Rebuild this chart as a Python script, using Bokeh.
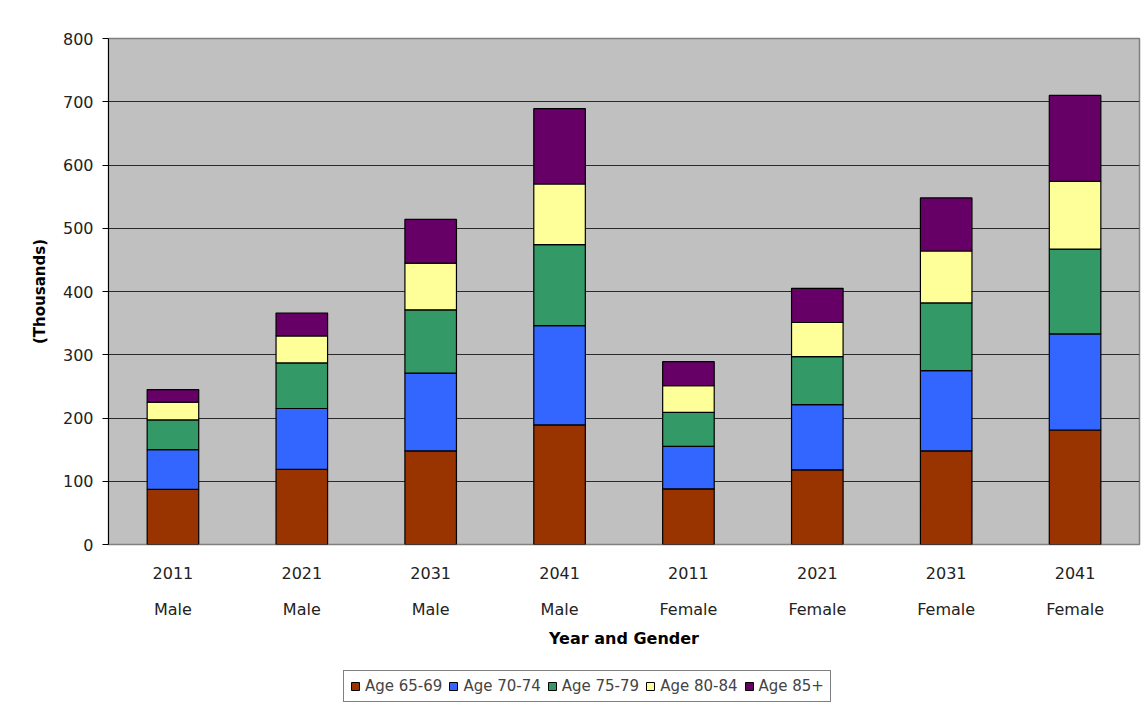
from bokeh.plotting import figure
from bokeh.layouts import column
from bokeh.models import (ColumnDataSource, FactorRange, Range1d, FixedTicker,
                          Legend, LegendItem)
from bokeh.embed import file_html
from bokeh.resources import INLINE

years = ["2011", "2021", "2031", "2041", "2011", "2021", "2031", "2041"]
genders = ["Male", "Male", "Male", "Male", "Female", "Female", "Female", "Female"]
age_groups = ["Age 65-69", "Age 70-74", "Age 75-79", "Age 80-84", "Age 85+"]
age_65_69 = [87, 119, 148, 189, 88, 118, 148, 181]
age_70_74 = [63, 96, 123, 157, 67, 103, 127, 152]
age_75_79 = [47, 72, 100, 128, 54, 76, 107, 134]
age_80_84 = [28, 43, 74, 96, 42, 54, 82, 107]
age_85_plus = [20, 36, 69, 119, 38, 54, 84, 136]
colors = ["#993300", "#3366FF", "#339966", "#FFFF99", "#660066"]
y_ticks = [0, 100, 200, 300, 400, 500, 600, 700, 800]

factors = [f"{y}\n\n{g}" for y, g in zip(years, genders)]
keys = ["a1", "a2", "a3", "a4", "a5"]
source = ColumnDataSource(dict(x=factors, a1=age_65_69, a2=age_70_74,
                               a3=age_75_79, a4=age_80_84, a5=age_85_plus))

FONT = "DejaVu Sans"
W = 1146

p = figure(width=W, height=660, x_range=FactorRange(*factors, range_padding=0),
           y_range=Range1d(0, 800), output_backend="svg", toolbar_location=None,
           min_border_left=108, min_border_right=7, min_border_top=38,
           min_border_bottom=116)

renderers = p.vbar_stack(keys, x="x", width=0.4, source=source, color=colors,
                         line_color="black", line_width=1.2)

p.background_fill_color = "#C0C0C0"
p.border_fill_color = "white"
p.outline_line_color = "#808080"
p.outline_line_width = 1.5

p.xgrid.grid_line_color = None
p.ygrid.grid_line_color = "#2a2a2a"
p.ygrid.grid_line_width = 1.2
p.yaxis.ticker = FixedTicker(ticks=y_ticks)

p.yaxis.axis_line_color = "black"
p.yaxis.major_tick_out = 6
p.yaxis.major_tick_in = 0
p.yaxis.minor_tick_line_color = None
p.yaxis.major_tick_line_color = "black"
p.yaxis.major_label_text_font = FONT
p.yaxis.major_label_text_font_size = "16px"
p.yaxis.major_label_text_color = "#222222"
p.yaxis.major_label_standoff = 9
p.yaxis.axis_label = "(Thousands)"
p.yaxis.axis_label_text_font = FONT
p.yaxis.axis_label_text_font_style = "bold"
p.yaxis.axis_label_text_font_size = "15px"
p.yaxis.axis_label_text_color = "black"
p.yaxis.axis_label_standoff = 11

p.xaxis.axis_line_color = None
p.xaxis.major_tick_line_color = None
p.xaxis.minor_tick_line_color = None
p.xaxis.major_label_text_font = FONT
p.xaxis.major_label_text_font_size = "16px"
p.xaxis.major_label_text_line_height = 0.95
p.xaxis.major_label_text_color = "#222222"
p.xaxis.major_label_standoff = 13
p.xaxis.axis_label = "Year and Gender"
p.xaxis.axis_label_text_font = FONT
p.xaxis.axis_label_text_font_style = "bold"
p.xaxis.axis_label_text_font_size = "16px"
p.xaxis.axis_label_text_color = "black"
p.xaxis.axis_label_standoff = 7

# legend strip below the chart (swatch glyphs sit outside its visible range)
lg = figure(width=W, height=47, output_backend="svg", toolbar_location=None,
            min_border=0, x_range=Range1d(0, 1), y_range=Range1d(0, 1))
lg.axis.visible = False
lg.grid.visible = False
lg.outline_line_color = None
lg.background_fill_color = "white"
lg.border_fill_color = "white"
swatches = [lg.vbar(x=[-5], top=[-5], bottom=[-6], width=0.1, fill_color=c,
                    line_color="black", line_width=1) for c in colors]
legend = Legend(items=[LegendItem(label=lab, renderers=[r]) for lab, r in zip(age_groups, swatches)],
                orientation="horizontal", location=(235, 5),
                border_line_color="black", border_line_width=1.2,
                background_fill_color="white", background_fill_alpha=1.0,
                label_text_font=FONT, label_text_font_size="15px",
                glyph_width=10, glyph_height=10, spacing=6,
                label_standoff=5, padding=6, margin=0)
lg.add_layout(legend, "center")

layout = column(p, lg, spacing=0)
open("out.html", "w").write(file_html(layout, INLINE))
